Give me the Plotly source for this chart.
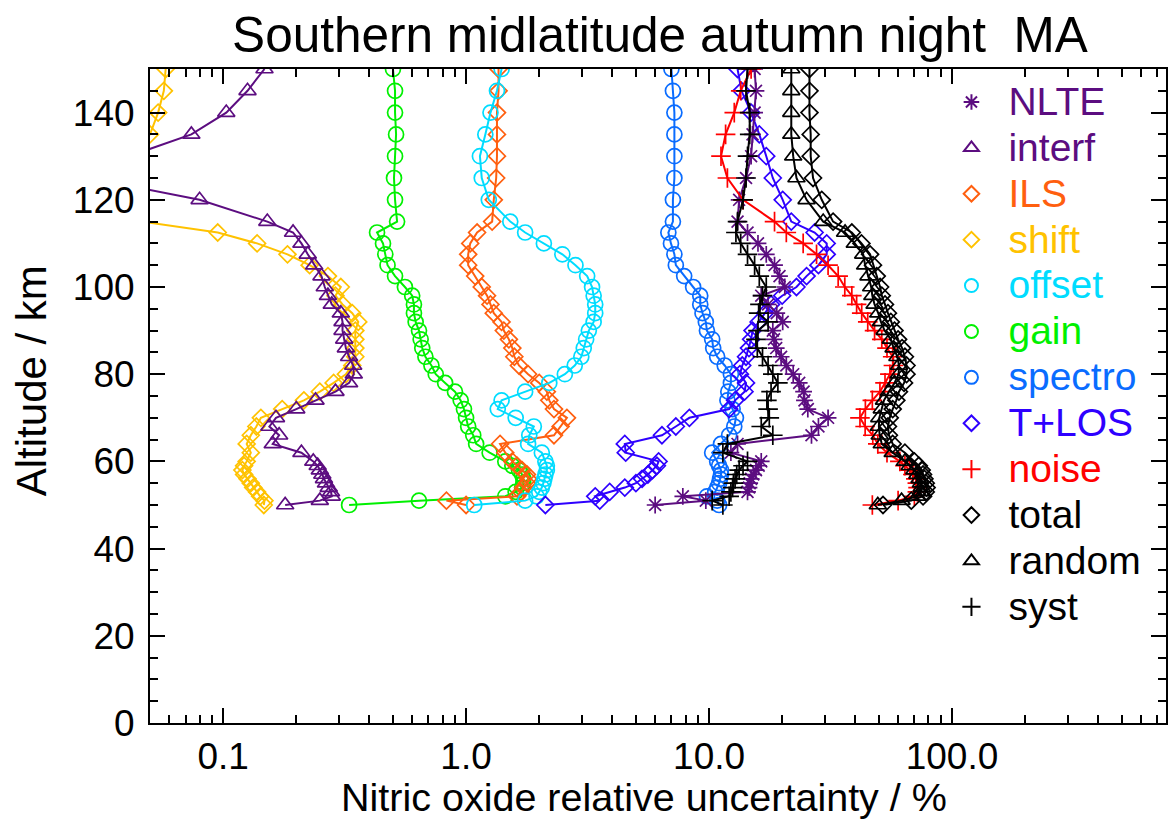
import numpy as np
import plotly.graph_objects as go

# ---------------- data ----------------
altitude = [50, 51, 52, 53, 54, 55, 56, 57, 58, 59, 60, 62, 64, 66, 68, 70, 72, 74, 76, 78,
            80, 82, 84, 86, 88, 90, 92, 94, 96, 98, 100, 102.5, 105, 107.5, 110, 112.5, 115,
            120, 125, 130, 135, 140, 145, 150]

nlte = [6.0, 9.7, 7.8, 14.4, 14.6, 14.7, 14.9, 15.2, 15.6, 16.0, 16.4, 12.3, 13.1, 26.4, 28.2, 30.9,
        25.5, 24.7, 24.5, 23.5, 22.2, 20.8, 19.8, 18.9, 18.5, 18.3, 20.1, 19.0, 17.5, 16.4, 20.5,
        19.5, 18.6, 17.2, 15.9, 14.4, 13.1, 13.3, 14.2, 14.9, 15.1, 15.4, 15.6, 15.4]

interf = [0.18, 0.25, 0.28, 0.278, 0.272, 0.265, 0.26, 0.256, 0.25, 0.245, 0.235, 0.21, 0.16, 0.17,
          0.155, 0.165, 0.2, 0.24, 0.29, 0.33, 0.345, 0.343, 0.33, 0.32, 0.315, 0.31, 0.31, 0.305,
          0.28, 0.27, 0.262, 0.254, 0.237, 0.223, 0.21, 0.194, 0.152, 0.08, 0.028, 0.041, 0.074,
          0.103, 0.126, 0.148]

ils = [1.0, 0.83, 1.62, 1.68, 1.72, 1.78, 1.80, 1.78, 1.70, 1.62, 1.55, 1.45, 1.38, 2.3, 2.45, 2.6,
       2.3, 2.2, 2.15, 2.0, 1.8, 1.65, 1.58, 1.55, 1.5, 1.43, 1.40, 1.30, 1.26, 1.22, 1.16, 1.09,
       1.02, 1.02, 1.04, 1.11, 1.28, 1.30, 1.33, 1.34, 1.34, 1.34, 1.36, 1.36]

shift = [0.147, 0.148, 0.142, 0.138, 0.133, 0.13, 0.126, 0.122, 0.12, 0.122, 0.125, 0.13, 0.125,
         0.13, 0.137, 0.143, 0.175, 0.215, 0.25, 0.285, 0.32, 0.34, 0.35, 0.35, 0.35, 0.35, 0.36,
         0.34, 0.31, 0.29, 0.305, 0.27, 0.227, 0.184, 0.138, 0.095, 0.046, 0.02, 0.025, 0.035,
         0.050, 0.054, 0.057, 0.058]

offset = [1.08, 1.75, 1.95, 2.0, 2.05, 2.08, 2.1, 2.12, 2.15, 2.15, 2.12, 2.05, 1.8, 1.82, 1.9, 1.6,
          1.35, 1.4, 1.75, 2.2, 2.55, 2.8, 2.98, 3.05, 3.12, 3.2, 3.35, 3.4, 3.4, 3.35, 3.3, 3.15,
          2.82, 2.49, 2.09, 1.75, 1.52, 1.24, 1.16, 1.14, 1.2, 1.26, 1.34, 1.40]

gain = [0.33, 0.64, 1.45, 1.6, 1.7, 1.72, 1.72, 1.7, 1.65, 1.55, 1.45, 1.25, 1.1, 1.07, 1.02, 1.0,
        0.98, 0.95, 0.9, 0.82, 0.75, 0.72, 0.68, 0.66, 0.65, 0.64, 0.62, 0.61, 0.61, 0.6, 0.56, 0.51,
        0.475, 0.465, 0.455, 0.43, 0.52, 0.51, 0.505, 0.51, 0.515, 0.51, 0.51, 0.5]

spectro = [11.0, 10.8, 9.8, 10.6, 10.8, 11.0, 11.1, 11.2, 11.2, 11.0, 10.8, 10.3, 11.2, 12.1, 12.7,
           12.9, 12.5, 11.9, 12.0, 12.3, 12.3, 11.6, 10.8, 10.4, 10.3, 9.8, 9.7, 9.4, 9.2, 9.2, 8.6,
           7.9, 7.3, 7.2, 6.97, 6.8, 7.1, 7.1, 7.2, 7.2, 7.2, 7.2, 7.1, 7.0]

tlos = [2.12, 3.55, 3.4, 3.9, 4.5, 5.0, 5.3, 5.6, 5.85, 6.1, 6.2, 4.54, 4.5, 6.4, 7.3, 8.3, 12.1, 12.8,
        14.0, 14.2, 13.4, 13.7, 14.2, 14.6, 14.9, 15.1, 16.0, 17.0, 18.0, 20.0, 22.9, 25.2, 28.2,
        30.5, 30.5, 27.2, 21.8, 20.1, 18.3, 17.2, 16.1, 14.9, 13.6, 13.1]

noise = [47, 60, 70, 72, 72.5, 72, 71, 69, 67, 64, 61, 54, 49.5, 47.2, 43.9, 41.8, 44, 47, 50.5, 53,
         55.5, 57.4, 57, 54, 51.4, 48, 45, 42.5, 40.5, 38.7, 36.2, 34, 30.9, 27.7, 24.4, 20.8, 18.6,
         13.8, 11.9, 11.2, 11.7, 12.7, 13.5, 14.9]

total = [52, 68, 76, 78, 78.6, 78, 77, 76, 75, 73, 70, 64, 57, 55, 54.5, 55.4, 57, 59, 60.5, 63.5,
         65, 65, 64, 62.3, 60, 58, 56, 54.5, 53, 51.4, 50.6, 49, 47.3, 46, 42.4, 38.7, 32.4, 29.1,
         26.8, 26.2, 26.2, 25.9, 25.9, 25.9]

random_err = [49.5, 62, 72, 74.5, 75, 74.5, 73.5, 72, 70, 67, 64, 57, 51.4, 50.4, 50, 50.2, 51.4,
              52.5, 55, 58, 60.3, 60.5, 59.6, 57.5, 56, 52.8, 51, 49.7, 48, 47, 46.5, 45.3, 43.9,
              43.1, 39.8, 36.3, 29.5, 25.2, 22.9, 22.2, 21.8, 21.8, 21.8, 21.8]

syst = [11.4, 10.3, 12.1, 12.3, 12.5, 12.6, 12.8, 13.0, 13.3, 13.8, 14.4, 11.4, 11.9, 18.3, 16.4,
        17.7, 17.5, 17.3, 18.0, 19.2, 18.3, 17.5, 16.6, 15.8, 15.6, 15.9, 17.5, 16.0, 16.2, 16.6,
        17.2, 16.1, 15.4, 14.4, 13.5, 12.9, 13.1, 13.8, 14.2, 14.4, 14.7, 14.7, 14.2, 14.4]

series_names = ["NLTE", "interf", "ILS", "shift", "offset", "gain", "spectro", "T+LOS",
                "noise", "total", "random", "syst"]
series_values = [nlte, interf, ils, shift, offset, gain, spectro, tlos, noise, total, random_err, syst]

x_tick_vals = [0.1, 1, 10, 100]
x_tick_text = ["0.1", "1.0", "10.0", "100.0"]
y_tick_vals = [0, 20, 40, 60, 80, 100, 120, 140]

# ---------------- styles ----------------
PURPLE = "#5c0d80"
colors = {
    "NLTE": PURPLE, "interf": PURPLE, "ILS": "#ff5f0f", "shift": "#ffc200",
    "offset": "#00dcff", "gain": "#00f000", "spectro": "#0a6cff", "T+LOS": "#2e00ff",
    "noise": "#ff0000", "total": "#000000", "random": "#000000", "syst": "#000000",
}
symbols = {
    "NLTE": ("asterisk-open", 14), "interf": ("triangle-up-open", 15), "ILS": ("diamond-open", 13),
    "shift": ("diamond-open", 13), "offset": ("circle-open", 15), "gain": ("circle-open", 15),
    "spectro": ("circle-open", 15), "T+LOS": ("diamond-open", 13), "noise": ("cross-thin-open", 14),
    "total": ("diamond-open", 13), "random": ("triangle-up-open", 15), "syst": ("cross-thin-open", 14),
}
legend_sizes = {
    "NLTE": 13, "interf": 13, "ILS": 12, "shift": 12, "offset": 13, "gain": 13,
    "spectro": 13, "T+LOS": 12, "noise": 13, "total": 12, "random": 13, "syst": 13,
}

FONT = "Liberation Sans, Arial, Helvetica, sans-serif"

fig = go.Figure()

draw_order = ["shift", "interf", "gain", "ILS", "offset", "spectro", "T+LOS", "NLTE",
              "noise", "syst", "random", "total"]
for name in draw_order:
    vals = series_values[series_names.index(name)]
    sym, sz = symbols[name]
    fig.add_trace(go.Scatter(
        x=vals, y=altitude, mode="lines+markers", name=name, showlegend=False,
        line=dict(color=colors[name], width=2),
        marker=dict(symbol=sym, size=sz, color=colors[name],
                    line=dict(color=colors[name], width=1.7)),
        cliponaxis=True,
    ))

# legend-only entries (symbol only, as in the original)
for name in series_names:
    sym, _ = symbols[name]
    fig.add_trace(go.Scatter(
        x=[None], y=[None], mode="markers",
        name='<span style="font-size:39px;color:%s">%s</span>' % (colors[name], name),
        marker=dict(symbol=sym, size=legend_sizes[name], color=colors[name],
                    line=dict(color=colors[name], width=2)),
        showlegend=True,
    ))

minor_x = []
for dec in [0.01, 0.1, 1, 10, 100]:
    for d in range(2, 10):
        v = d * dec
        if 0.05 <= v <= 760:
            minor_x.append(v)

fig.update_layout(
    width=1171, height=827,
    margin=dict(l=150, r=3, t=69, b=104),
    paper_bgcolor="white", plot_bgcolor="white",
    font=dict(family=FONT, size=37, color="black"),
    title=dict(text="Southern midlatitude autumn night\u00a0\u00a0MA",
               x=(661 - 150) / 1018, xref="paper", xanchor="center",
               y=1 - 35 / 827, yref="container", yanchor="middle",
               font=dict(family=FONT, size=49.5, color="black")),
    showlegend=True,
    legend=dict(x=(936 - 150) / 1018, xanchor="left", y=(723 - 74) / 654, yanchor="top",
                font=dict(family=FONT, size=33), itemwidth=64, bgcolor="rgba(0,0,0,0)",
                borderwidth=0, itemsizing="trace", tracegroupgap=0),
    xaxis=dict(type="log", range=[np.log10(0.05), np.log10(760)],
               tickmode="array", tickvals=x_tick_vals, ticktext=x_tick_text,
               ticks="inside", ticklen=15, tickwidth=2, tickcolor="black",
               showline=True, linewidth=2, linecolor="black", mirror="allticks",
               showgrid=False, zeroline=False,
               minor=dict(tickmode="array", tickvals=minor_x, ticks="inside", ticklen=8,
                          tickwidth=2, tickcolor="black", showgrid=False),
               tickfont=dict(family=FONT, size=37), ticklabelstandoff=0),
    yaxis=dict(range=[0, 150], tickmode="array", tickvals=y_tick_vals,
               ticks="inside", ticklen=15, tickwidth=2, tickcolor="black",
               showline=True, linewidth=2, linecolor="black", mirror="allticks",
               showgrid=False, zeroline=False,
               minor=dict(dtick=5, tick0=0, ticks="inside", ticklen=8, tickwidth=2,
                          tickcolor="black", showgrid=False),
               tickfont=dict(family=FONT, size=37), ticklabelstandoff=6),
    annotations=[
        dict(text="Nitric oxide relative uncertainty / %", xref="paper", yref="paper",
             x=(645 - 150) / 1018, y=(723 - 797) / 654, xanchor="center", yanchor="middle",
             showarrow=False, font=dict(family=FONT, size=39.5, color="black")),
        dict(text="Altitude / km", xref="paper", yref="paper", textangle=-90,
             x=(31 - 150) / 1018, y=(723 - 381) / 654, xanchor="center", yanchor="middle",
             showarrow=False, font=dict(family=FONT, size=42, color="black")),
    ],
)

fig.write_html("out.html")
